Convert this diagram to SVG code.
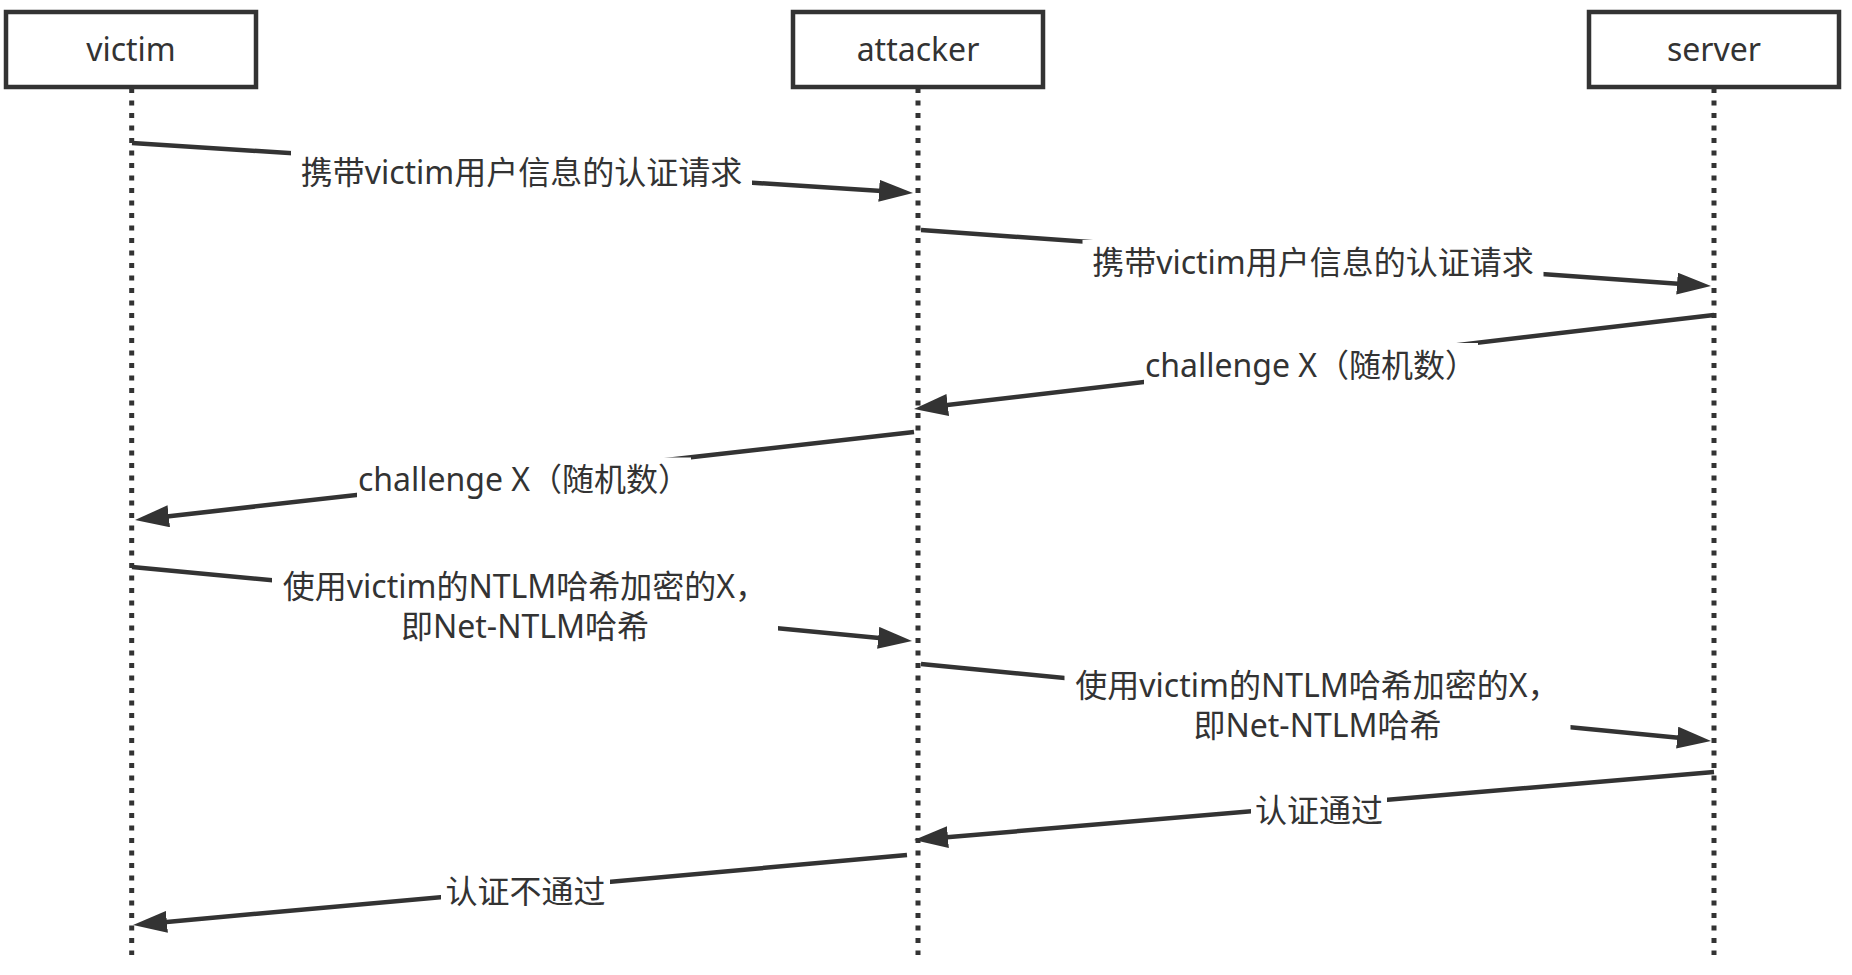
<svg xmlns="http://www.w3.org/2000/svg" width="1852" height="975" viewBox="0 0 1852 975">
<style>
  .box { fill: #ffffff; stroke: #333333; stroke-width: 4.5; }
  .life { stroke: #333333; stroke-width: 5; stroke-dasharray: 5 7.5; fill: none; }
  .msg { stroke: #333333; stroke-width: 4.5; fill: none; marker-end: url(#arrow); }
  .lblbg { fill: #ffffff; stroke: none; }
  text { font-family: "Noto Sans", "Noto Sans CJK SC", sans-serif; font-size: 32px; fill: #333333; text-anchor: middle; }
</style>
<defs>
  <marker id="arrow" viewBox="0 0 34 22" refX="22" refY="11" markerWidth="34" markerHeight="22" markerUnits="userSpaceOnUse" orient="auto">
    <path d="M0,0 L34,11 L0,22 z" fill="#333333"/>
  </marker>
</defs>
<rect width="1852" height="975" fill="#ffffff"/>

<g id="lifelines">
  <line class="life" x1="131.7" y1="88" x2="131.7" y2="955"/>
  <line class="life" x1="918" y1="88" x2="918" y2="955"/>
  <line class="life" x1="1714" y1="88" x2="1714" y2="955"/>
</g>

<g id="victim">
  <rect class="box" x="6" y="12" width="250" height="75"/>
  <text x="131" y="61">victim</text>
</g>
<g id="attacker">
  <rect class="box" x="793" y="12" width="250" height="75"/>
  <text x="918" y="61">attacker</text>
</g>
<g id="server">
  <rect class="box" x="1589" y="12" width="250" height="75"/>
  <text x="1714" y="61">server</text>
</g>

<g id="connectors">
  <g id="m1">
    <path class="msg" d="M132,143 L901,192.2"/>
    <rect class="lblbg" x="291" y="150.5" width="461" height="44"/>
    <text x="521.5" y="184">携带victim用户信息的认证请求</text>
  </g>
  <g id="m2">
    <path class="msg" d="M921,230 L1699,285.2"/>
    <rect class="lblbg" x="1082.5" y="240" width="461" height="44"/>
    <text x="1313" y="273.5">携带victim用户信息的认证请求</text>
  </g>
  <g id="m3">
    <path class="msg" d="M1714,315 L925.9,407.6"/>
    <rect class="lblbg" x="1144" y="343" width="334" height="44"/>
    <text x="1311" y="376.5">challenge X（随机数）</text>
  </g>
  <g id="m4">
    <path class="msg" d="M914,432 L146.9,518.7"/>
    <rect class="lblbg" x="357" y="457.5" width="334" height="44"/>
    <text x="524" y="491">challenge X（随机数）</text>
  </g>
  <g id="m5">
    <path class="msg" d="M132,567 L900.1,639.9"/>
    <rect class="lblbg" x="272" y="565" width="506" height="84"/>
    <text x="525" y="598">使用victim的NTLM哈希加密的X，</text>
    <text x="525" y="638">即Net-NTLM哈希</text>
  </g>
  <g id="m6">
    <path class="msg" d="M921,664 L1699.1,739.8"/>
    <rect class="lblbg" x="1064.5" y="664" width="506" height="84"/>
    <text x="1317.5" y="697">使用victim的NTLM哈希加密的X，</text>
    <text x="1317.5" y="737">即Net-NTLM哈希</text>
  </g>
  <g id="m7">
    <path class="msg" d="M1714,772 L926,839"/>
    <rect class="lblbg" x="1251" y="788" width="136" height="44"/>
    <text x="1319" y="821.5">认证通过</text>
  </g>
  <g id="m8">
    <path class="msg" d="M907,855 L145,923.9"/>
    <rect class="lblbg" x="441" y="870" width="169" height="44"/>
    <text x="525.6" y="903">认证不通过</text>
  </g>
</g>
</svg>
